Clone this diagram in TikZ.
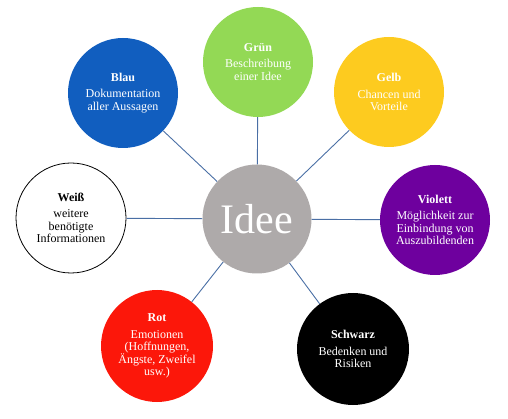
\documentclass[tikz,border=0pt]{standalone}
\usepackage{fontspec}
\setmainfont{Liberation Serif}
\definecolor{cblau}{HTML}{115EBF}
\definecolor{cgruen}{HTML}{93D955}
\definecolor{cgelb}{HTML}{FDCB1F}
\definecolor{cviolett}{HTML}{6E009E}
\definecolor{crot}{HTML}{FC170A}
\definecolor{cgrau}{HTML}{AEAAAA}
\definecolor{clinie}{HTML}{4A6FA5}
\begin{document}
\begin{tikzpicture}[x=1pt,y=-1pt,
  hut/.style={circle,minimum size=110pt,inner sep=0pt,align=center,
    font=\fontsize{12}{12.4}\selectfont,text=white},
  verb/.style={draw=clinie,line width=0.9pt}]
\useasboundingbox (0,0) rectangle (508,419);
\node[circle,fill=cgrau,minimum size=109pt,inner sep=0pt,text=white,
  font=\fontsize{42}{42}\selectfont] (idee) at (257,219) {Idee};
\node[hut,fill=cgruen] (gruen) at (258,62) {\textbf{Grün}\\[4pt]Beschreibung\\einer Idee};
\node[hut,fill=cblau] (blau) at (123,93) {\textbf{Blau}\\[4pt]Dokumentation\\aller Aussagen};
\node[hut,fill=cgelb] (gelb) at (389,92) {\textbf{Gelb}\\[4pt]Chancen und\\Vorteile};
\node[hut,fill=white,draw=black,line width=0.8pt,text=black] (weiss) at (71,218) {\textbf{Weiß}\\[4pt]weitere\\benötigte\\Informationen};
\node[hut,fill=cviolett] (violett) at (435,220) {\textbf{Violett}\\[4pt]Möglichkeit zur\\Einbindung von\\Auszubildenden};
\node[hut,fill=crot,minimum size=112pt] (rot) at (157,346) {\textbf{Rot}\\[4pt]Emotionen\\(Hoffnungen,\\Ängste, Zweifel\\usw.)};
\node[hut,fill=black,minimum size=112pt] (schwarz) at (353,349) {\textbf{Schwarz}\\[4pt]Bedenken und\\Risiken};
\foreach \n in {gruen,blau,gelb,weiss,violett,rot,schwarz}
  \draw[verb] (idee) -- (\n);
\end{tikzpicture}
\end{document}
